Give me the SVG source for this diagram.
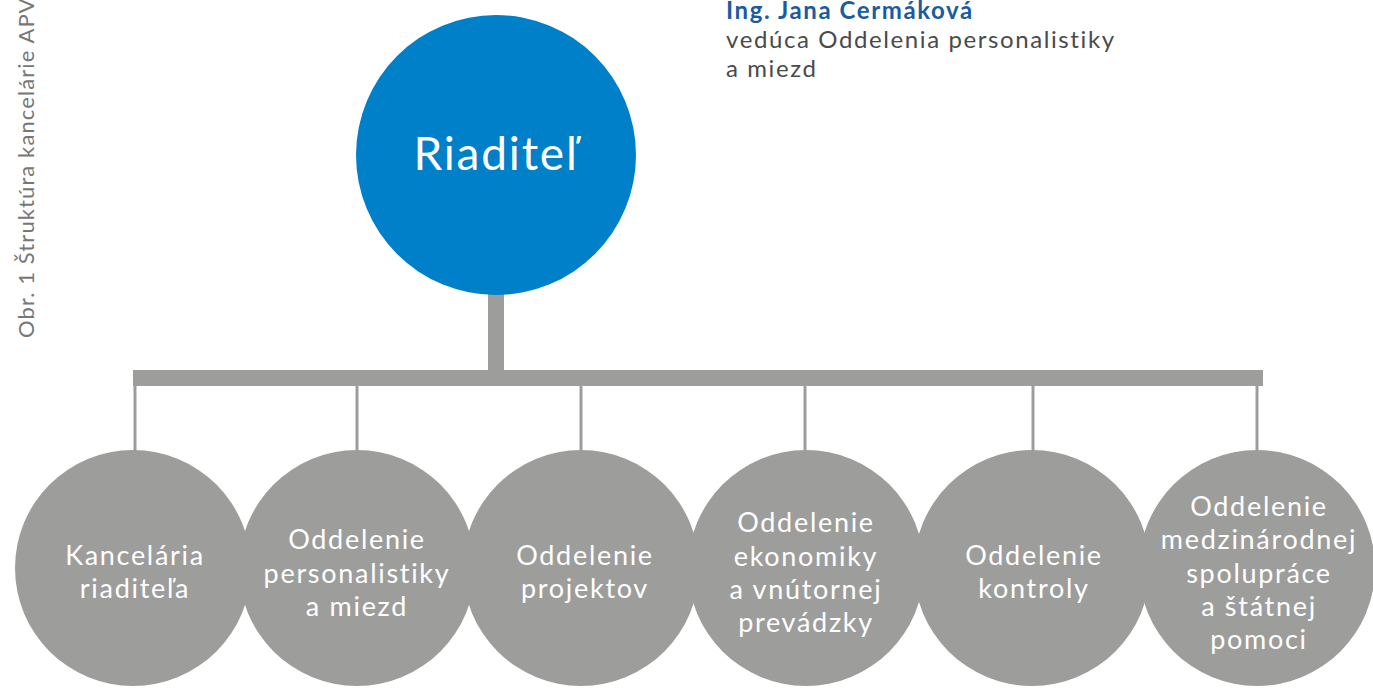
<svg xmlns="http://www.w3.org/2000/svg" width="1373" height="689" viewBox="0 0 1373 689">
<style>
.dept { fill: #9d9d9c; }
.lbl { font-family: Lato, "Open Sans", sans-serif; font-size: 27px; letter-spacing: 1.7px; fill: #ffffff; text-anchor: middle; }
.line { stroke: #9d9d9c; fill: none; }
.note { font-family: Lato, "Open Sans", sans-serif; font-size: 24px; letter-spacing: 1.6px; fill: #4a4a4a; }
</style>
<rect width="1373" height="689" fill="#ffffff"/>
<text x="34" y="338" transform="rotate(-90 34 338)" font-family="Lato, Open Sans, sans-serif" font-size="22" letter-spacing="1.1" fill="#777777">Obr. 1 Štruktúra kancelárie APVV</text>
<g id="note">
<text x="726" y="19" font-family="Lato, Open Sans, sans-serif" font-size="24" letter-spacing="1.6" font-weight="bold" fill="#1a5c9e">Ing. Jana Čermáková</text>
<text class="note" x="726" y="48">vedúca Oddelenia personalistiky</text>
<text class="note" x="726" y="77">a miezd</text>
</g>
<g id="connectors">
<line class="line" x1="496" y1="290" x2="496" y2="372" stroke-width="16"/>
<rect x="133" y="370" width="1130" height="16" fill="#9d9d9c"/>
<line class="line" x1="135" y1="386" x2="135" y2="455" stroke-width="3"/>
<line class="line" x1="357" y1="386" x2="357" y2="455" stroke-width="3"/>
<line class="line" x1="581" y1="386" x2="581" y2="455" stroke-width="3"/>
<line class="line" x1="805" y1="386" x2="805" y2="455" stroke-width="3"/>
<line class="line" x1="1033" y1="386" x2="1033" y2="455" stroke-width="3"/>
<line class="line" x1="1257" y1="386" x2="1257" y2="455" stroke-width="3"/>
</g>
<g id="riaditel">
<circle cx="496" cy="155" r="140" fill="#0080c8"/>
<text x="496" y="170" font-family="Lato, Open Sans, sans-serif" font-size="46" letter-spacing="1.8" fill="#ffffff" text-anchor="middle">Riaditeľ</text>
</g>
<g id="kancelaria">
<circle class="dept" cx="133" cy="568" r="118"/>
<text class="lbl" x="135" y="565">Kancelária</text>
<text class="lbl" x="135" y="598">riaditeľa</text>
</g>
<g id="personalistika">
<circle class="dept" cx="357" cy="568" r="118"/>
<text class="lbl" x="357" y="549">Oddelenie</text>
<text class="lbl" x="357" y="583">personalistiky</text>
<text class="lbl" x="357" y="616">a miezd</text>
</g>
<g id="projekty">
<circle class="dept" cx="581" cy="568" r="118"/>
<text class="lbl" x="585" y="565">Oddelenie</text>
<text class="lbl" x="585" y="598">projektov</text>
</g>
<g id="ekonomika">
<circle class="dept" cx="806" cy="568" r="118"/>
<text class="lbl" x="806" y="532">Oddelenie</text>
<text class="lbl" x="806" y="566">ekonomiky</text>
<text class="lbl" x="806" y="599">a vnútornej</text>
<text class="lbl" x="806" y="632">prevádzky</text>
</g>
<g id="kontrola">
<circle class="dept" cx="1032" cy="568" r="118"/>
<text class="lbl" x="1034" y="565">Oddelenie</text>
<text class="lbl" x="1034" y="598">kontroly</text>
</g>
<g id="medzinarodna">
<circle class="dept" cx="1257" cy="568" r="118"/>
<text class="lbl" x="1259" y="516">Oddelenie</text>
<text class="lbl" x="1259" y="549">medzinárodnej</text>
<text class="lbl" x="1259" y="583">spolupráce</text>
<text class="lbl" x="1259" y="616">a štátnej</text>
<text class="lbl" x="1259" y="649">pomoci</text>
</g>
</svg>
